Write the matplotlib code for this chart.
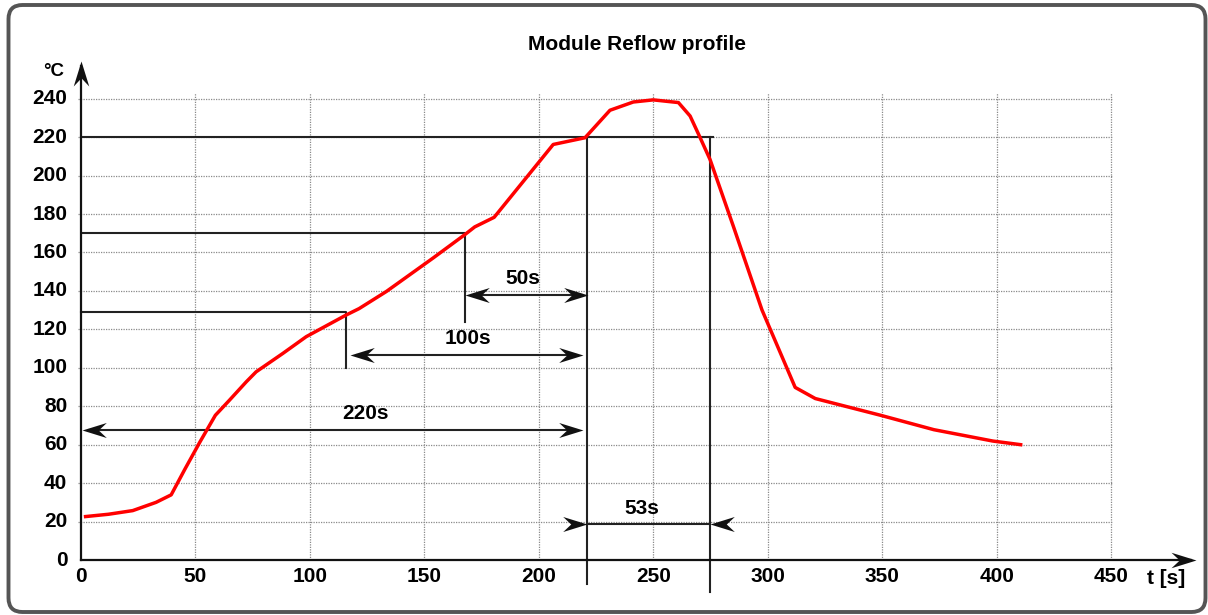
import matplotlib

matplotlib.use("Agg")
import matplotlib.pyplot as plt
from matplotlib.patches import FancyBboxPatch
from matplotlib.path import Path
from matplotlib.transforms import IdentityTransform

plt.rcParams["font.family"] = ["Liberation Sans", "DejaVu Sans"]

# reflow profile (t in s, T in degC)
time_s = [2, 12, 22.6, 32.8, 39.4, 45.5, 52, 58.7, 64.9, 72.2, 76.5, 88.2,
          98.4, 115.9, 121.5, 133.4, 153.8, 167.7, 172, 180.5, 206.3, 220.2,
          231.1, 241.3, 250, 261, 266.1, 270.5, 274.8, 285, 297.5, 312,
          320.8, 349.3, 372.6, 398.3, 410.5]
temp_c = [22.6, 23.8, 25.7, 30, 33.9, 47.5, 61.5, 75.3, 83.2, 92.7, 97.9,
          107.5, 116.2, 127.5, 130.8, 139.7, 157.1, 169.3, 173.3, 178.3,
          216.2, 219.7, 234, 238.3, 239.4, 238, 231, 219.7, 208.4, 173.6,
          130.1, 89.8, 84, 75.3, 67.8, 61.9, 60]

x_ticks = [0, 50, 100, 150, 200, 250, 300, 350, 400, 450]
y_ticks = [0, 20, 40, 60, 80, 100, 120, 140, 160, 180, 200, 220, 240]

# marker levels / times of the dimension lines
liquidus = 220
t_liquidus = 221.2
t_liquidus_end = 274.7
soak_hi, t_soak_hi = 170, 167.6
soak_lo, t_soak_lo = 129.1, 115.6

# dimension arrows: (label, y, x_start, x_end, label_x)
spans = [("50s", 137.9, t_soak_hi, 221.7, 192.9),
         ("100s", 106.6, 117.4, 219.4, 168.9),
         ("220s", 67.5, 0.6, 219.4, 124.5)]
span_53 = ("53s", 18.8, t_liquidus, t_liquidus_end, 245)

W, H, DPI = 1208, 615, 100
X0_PX, Y0_PX = 81.0, 560.0        # pixel of the origin
SX, SY = 2.289, 1.922             # px per unit


def head(direction, w=0.31):
    # notched arrow head, tip at the origin
    v = [(0, 0), (-1, w), (-0.67, 0), (-1, -w), (0, 0)]
    if direction == "left":
        v = [(-a, b) for a, b in v]
    elif direction == "up":
        v = [(b, a) for a, b in v]
    codes = [Path.MOVETO] + [Path.LINETO] * 3 + [Path.CLOSEPOLY]
    return Path(v, codes)


def arrow_tip(ax, x, y, direction, size=35):
    ax.plot([x], [y], marker=head(direction), ms=size, color="#111111",
            mew=0, zorder=6)


fig = plt.figure(figsize=(W / DPI, H / DPI), dpi=DPI)
fig.patch.set_facecolor("white")
ax = fig.add_axes([0, 0, 1, 1])
ax.set_xlim(-X0_PX / SX, (W - X0_PX) / SX)
ax.set_ylim((Y0_PX - H) / SY, Y0_PX / SY)
ax.axis("off")

# rounded frame
frame = FancyBboxPatch((8.5, 3), 1197, 607, boxstyle="round,pad=0,rounding_size=14",
                       transform=IdentityTransform(), fill=False,
                       edgecolor="#555555", linewidth=2.8)
fig.add_artist(frame)

# dotted grid
grid_kw = dict(color="#8a8a8a", linewidth=0.9, linestyle=(0, (1, 1)), zorder=1)
ax.hlines(y_ticks[1:], -1.5, x_ticks[-1] + 0.5, **grid_kw)
ax.vlines(x_ticks[1:], 0, 243, **grid_kw)

# axes with arrows
ax.plot([0, 485], [0, 0], color="#111111", lw=1.6, zorder=5)
ax.plot([0, 0], [0, 257], color="#111111", lw=1.6, zorder=5)
arrow_tip(ax, 487, 0, "right", size=36)
arrow_tip(ax, 0, 259.5, "up", size=36)

for xt in x_ticks:
    ax.text(xt, -8.5, str(xt), ha="center", va="center", fontsize=15,
            fontweight="bold")
for yt in y_ticks:
    ax.text(-6, yt, str(yt), ha="right", va="center", fontsize=15,
            fontweight="bold")
ax.text(473.9, -9.8, "t [s]", ha="center", va="center", fontsize=15,
        fontweight="bold")
fig.text(54 / W, 1 - 71 / H, "°C", ha="center", va="center", fontsize=13.5,
         fontweight="bold")
fig.text(637 / W, 1 - 44 / H, "Module Reflow profile", ha="center",
         va="center", fontsize=15, fontweight="bold")

# dimension lines
line_kw = dict(color="#222222", lw=1.5, zorder=4)
ax.plot([0, 276.3], [liquidus, liquidus], **line_kw)
ax.plot([t_liquidus, t_liquidus], [liquidus, -12.5], **line_kw)
ax.plot([t_liquidus_end, t_liquidus_end], [liquidus, -16.5], **line_kw)
ax.plot([1, t_soak_hi, t_soak_hi], [soak_hi, soak_hi, 124], **line_kw)
ax.plot([0, t_soak_lo, t_soak_lo], [soak_lo, soak_lo, 100], **line_kw)

for label, y, xa, xb, lx in spans:
    ax.plot([xa + 3, xb - 3], [y, y], **line_kw)
    arrow_tip(ax, xa, y, "left")
    arrow_tip(ax, xb, y, "right")
    ax.text(lx, y + 8.5, label, ha="center", va="center", fontsize=15,
            fontweight="bold")

label, y, xa, xb, lx = span_53
ax.plot([xa, xb], [y, y], **line_kw)
arrow_tip(ax, xa, y, "right")
arrow_tip(ax, xb, y, "left")
ax.text(lx, y + 7.8, label, ha="center", va="center", fontsize=15,
        fontweight="bold")

# profile
ax.plot(time_s, temp_c, color="#ff0000", lw=2.5, solid_joinstyle="round",
        zorder=7)

fig.savefig("out.png", dpi=DPI, facecolor="white")
plt.close(fig)
